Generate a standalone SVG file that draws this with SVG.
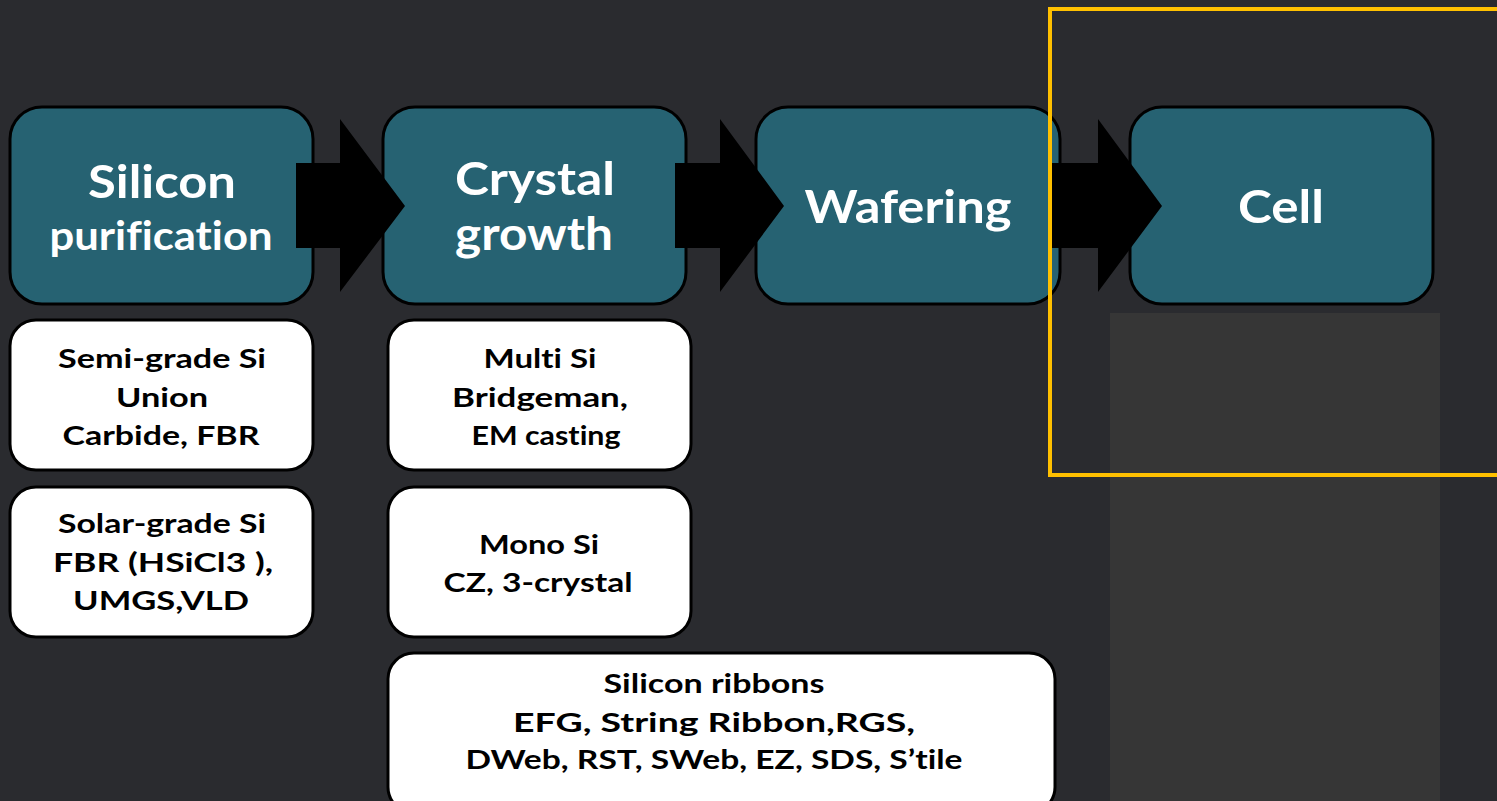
<svg xmlns="http://www.w3.org/2000/svg" width="1497" height="801" viewBox="0 0 1497 801">
<style>
.stage{fill:#266272;stroke:#000;stroke-width:3}
.sub{fill:#fff;stroke:#000;stroke-width:3}
text{font-variant-ligatures:none;font-feature-settings:"liga" 0,"clig" 0,"dlig" 0}
.ht{font-family:Lato,"Open Sans",sans-serif;font-weight:bold;font-size:46px;fill:#fff;text-anchor:middle}
.ht2{font-size:40px}
.st{font-family:Lato,"Open Sans",sans-serif;font-weight:bold;font-size:27px;fill:#000;text-anchor:middle}
.arrow{fill:#000}
</style>
<rect width="1497" height="801" fill="#2a2b2f"/>
<rect x="1110" y="313" width="330" height="488" fill="#363636"/>
<g id="silicon-purification"><rect class="stage" x="10" y="107" width="303" height="197" rx="32"/><text class="ht" x="162" y="198" textLength="148" lengthAdjust="spacingAndGlyphs">Silicon</text><text class="ht ht2" x="161" y="250" textLength="223" lengthAdjust="spacingAndGlyphs">purification</text></g>
<g id="crystal-growth"><rect class="stage" x="383" y="107" width="303" height="197" rx="32"/><text class="ht" x="535" y="195" textLength="160" lengthAdjust="spacingAndGlyphs">Crystal</text><text class="ht" x="534" y="250" textLength="158" lengthAdjust="spacingAndGlyphs">growth</text></g>
<g id="wafering"><rect class="stage" x="756" y="107" width="304" height="197" rx="32"/><text class="ht" x="908" y="223" textLength="207" lengthAdjust="spacingAndGlyphs">Wafering</text></g>
<g id="cell"><rect class="stage" x="1130" y="107" width="303" height="197" rx="32"/><text class="ht" x="1281" y="223" textLength="86" lengthAdjust="spacingAndGlyphs">Cell</text></g>
<g id="connectors">
<polygon class="arrow" points="296,163 340,163 340,119 405,206 340,292 340,248 296,248"/>
<polygon class="arrow" points="675,163 720,163 720,119 784,206 720,292 720,248 675,248"/>
<polygon class="arrow" points="1052,163 1098,163 1098,119 1162,206 1098,292 1098,248 1052,248"/>
</g>
<g id="semi-grade"><rect class="sub" x="10" y="320" width="303" height="150" rx="26"/><text class="st" x="162" y="368" textLength="208" lengthAdjust="spacingAndGlyphs">Semi-grade Si</text><text class="st" x="162" y="407" textLength="92" lengthAdjust="spacingAndGlyphs">Union</text><text class="st" x="161" y="445" textLength="197" lengthAdjust="spacingAndGlyphs">Carbide, FBR</text></g>
<g id="solar-grade"><rect class="sub" x="10" y="487" width="303" height="150" rx="26"/><text class="st" x="162" y="533" textLength="208" lengthAdjust="spacingAndGlyphs">Solar-grade Si</text><text class="st" x="163" y="572" textLength="220" lengthAdjust="spacingAndGlyphs">FBR (HSiCl3 ),</text><text class="st" x="161" y="610" textLength="176" lengthAdjust="spacingAndGlyphs">UMGS,VLD</text></g>
<g id="multi-si"><rect class="sub" x="388" y="320" width="303" height="150" rx="26"/><text class="st" x="540" y="368" textLength="113" lengthAdjust="spacingAndGlyphs">Multi Si</text><text class="st" x="540" y="407" textLength="176" lengthAdjust="spacingAndGlyphs">Bridgeman,</text><text class="st" x="546" y="445" textLength="149" lengthAdjust="spacingAndGlyphs">EM casting</text></g>
<g id="mono-si"><rect class="sub" x="388" y="487" width="303" height="150" rx="26"/><text class="st" x="539" y="554" textLength="120" lengthAdjust="spacingAndGlyphs">Mono Si</text><text class="st" x="538" y="592" textLength="189" lengthAdjust="spacingAndGlyphs">CZ, 3-crystal</text></g>
<g id="ribbons"><rect class="sub" x="388" y="653" width="667" height="160" rx="26"/><text class="st" x="714" y="693" textLength="221" lengthAdjust="spacingAndGlyphs">Silicon ribbons</text><text class="st" x="714" y="732" textLength="402" lengthAdjust="spacingAndGlyphs">EFG, String Ribbon,RGS,</text><text class="st" x="714" y="769" textLength="497" lengthAdjust="spacingAndGlyphs">DWeb, RST, SWeb, EZ, SDS, S’tile</text></g>
<rect x="1050" y="9" width="460" height="466" fill="none" stroke="#ffc000" stroke-width="4"/>
</svg>
